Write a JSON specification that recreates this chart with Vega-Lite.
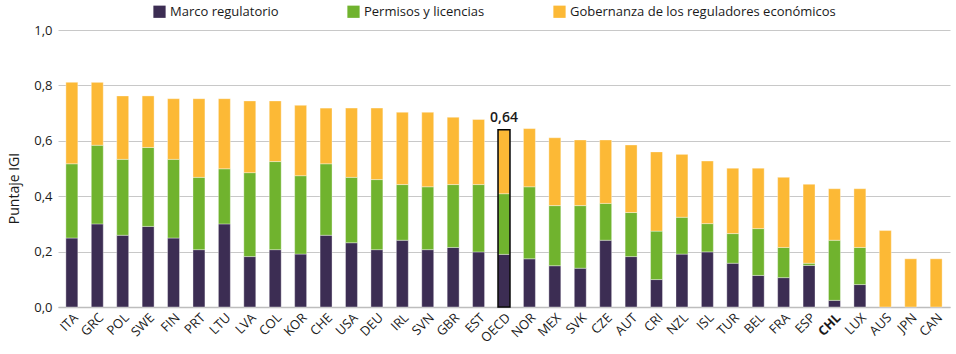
{
  "$schema": "https://vega.github.io/schema/vega-lite/v6.json",
  "width": 892,
  "height": 277,
  "autosize": {"type": "none"},
  "padding": {"left": 58, "top": 30, "right": 6, "bottom": 47},
  "background": "white",
  "config": {
    "view": {"stroke": null},
    "font": "Open Sans",
    "locale": {"number": {"decimal": ",", "thousands": ".", "grouping": [3], "currency": ["", " €"]}}
  },
  "data": {
    "values": [
      {"pais": "ITA", "componente": "Marco regulatorio", "orden": 1, "valor": 0.249},
      {"pais": "ITA", "componente": "Permisos y licencias", "orden": 2, "valor": 0.268},
      {"pais": "ITA", "componente": "Gobernanza de los reguladores económicos", "orden": 3, "valor": 0.294},
      {"pais": "GRC", "componente": "Marco regulatorio", "orden": 1, "valor": 0.300},
      {"pais": "GRC", "componente": "Permisos y licencias", "orden": 2, "valor": 0.284},
      {"pais": "GRC", "componente": "Gobernanza de los reguladores económicos", "orden": 3, "valor": 0.227},
      {"pais": "POL", "componente": "Marco regulatorio", "orden": 1, "valor": 0.259},
      {"pais": "POL", "componente": "Permisos y licencias", "orden": 2, "valor": 0.274},
      {"pais": "POL", "componente": "Gobernanza de los reguladores económicos", "orden": 3, "valor": 0.229},
      {"pais": "SWE", "componente": "Marco regulatorio", "orden": 1, "valor": 0.291},
      {"pais": "SWE", "componente": "Permisos y licencias", "orden": 2, "valor": 0.285},
      {"pais": "SWE", "componente": "Gobernanza de los reguladores económicos", "orden": 3, "valor": 0.186},
      {"pais": "FIN", "componente": "Marco regulatorio", "orden": 1, "valor": 0.249},
      {"pais": "FIN", "componente": "Permisos y licencias", "orden": 2, "valor": 0.284},
      {"pais": "FIN", "componente": "Gobernanza de los reguladores económicos", "orden": 3, "valor": 0.219},
      {"pais": "PRT", "componente": "Marco regulatorio", "orden": 1, "valor": 0.207},
      {"pais": "PRT", "componente": "Permisos y licencias", "orden": 2, "valor": 0.261},
      {"pais": "PRT", "componente": "Gobernanza de los reguladores económicos", "orden": 3, "valor": 0.284},
      {"pais": "LTU", "componente": "Marco regulatorio", "orden": 1, "valor": 0.300},
      {"pais": "LTU", "componente": "Permisos y licencias", "orden": 2, "valor": 0.199},
      {"pais": "LTU", "componente": "Gobernanza de los reguladores económicos", "orden": 3, "valor": 0.253},
      {"pais": "LVA", "componente": "Marco regulatorio", "orden": 1, "valor": 0.182},
      {"pais": "LVA", "componente": "Permisos y licencias", "orden": 2, "valor": 0.303},
      {"pais": "LVA", "componente": "Gobernanza de los reguladores económicos", "orden": 3, "valor": 0.259},
      {"pais": "COL", "componente": "Marco regulatorio", "orden": 1, "valor": 0.207},
      {"pais": "COL", "componente": "Permisos y licencias", "orden": 2, "valor": 0.318},
      {"pais": "COL", "componente": "Gobernanza de los reguladores económicos", "orden": 3, "valor": 0.219},
      {"pais": "KOR", "componente": "Marco regulatorio", "orden": 1, "valor": 0.191},
      {"pais": "KOR", "componente": "Permisos y licencias", "orden": 2, "valor": 0.283},
      {"pais": "KOR", "componente": "Gobernanza de los reguladores económicos", "orden": 3, "valor": 0.254},
      {"pais": "CHE", "componente": "Marco regulatorio", "orden": 1, "valor": 0.259},
      {"pais": "CHE", "componente": "Permisos y licencias", "orden": 2, "valor": 0.258},
      {"pais": "CHE", "componente": "Gobernanza de los reguladores económicos", "orden": 3, "valor": 0.201},
      {"pais": "USA", "componente": "Marco regulatorio", "orden": 1, "valor": 0.232},
      {"pais": "USA", "componente": "Permisos y licencias", "orden": 2, "valor": 0.236},
      {"pais": "USA", "componente": "Gobernanza de los reguladores económicos", "orden": 3, "valor": 0.250},
      {"pais": "DEU", "componente": "Marco regulatorio", "orden": 1, "valor": 0.207},
      {"pais": "DEU", "componente": "Permisos y licencias", "orden": 2, "valor": 0.253},
      {"pais": "DEU", "componente": "Gobernanza de los reguladores económicos", "orden": 3, "valor": 0.258},
      {"pais": "IRL", "componente": "Marco regulatorio", "orden": 1, "valor": 0.241},
      {"pais": "IRL", "componente": "Permisos y licencias", "orden": 2, "valor": 0.201},
      {"pais": "IRL", "componente": "Gobernanza de los reguladores económicos", "orden": 3, "valor": 0.261},
      {"pais": "SVN", "componente": "Marco regulatorio", "orden": 1, "valor": 0.207},
      {"pais": "SVN", "componente": "Permisos y licencias", "orden": 2, "valor": 0.227},
      {"pais": "SVN", "componente": "Gobernanza de los reguladores económicos", "orden": 3, "valor": 0.269},
      {"pais": "GBR", "componente": "Marco regulatorio", "orden": 1, "valor": 0.215},
      {"pais": "GBR", "componente": "Permisos y licencias", "orden": 2, "valor": 0.227},
      {"pais": "GBR", "componente": "Gobernanza de los reguladores económicos", "orden": 3, "valor": 0.243},
      {"pais": "EST", "componente": "Marco regulatorio", "orden": 1, "valor": 0.199},
      {"pais": "EST", "componente": "Permisos y licencias", "orden": 2, "valor": 0.243},
      {"pais": "EST", "componente": "Gobernanza de los reguladores económicos", "orden": 3, "valor": 0.235},
      {"pais": "OECD", "componente": "Marco regulatorio", "orden": 1, "valor": 0.190},
      {"pais": "OECD", "componente": "Permisos y licencias", "orden": 2, "valor": 0.219},
      {"pais": "OECD", "componente": "Gobernanza de los reguladores económicos", "orden": 3, "valor": 0.231},
      {"pais": "NOR", "componente": "Marco regulatorio", "orden": 1, "valor": 0.174},
      {"pais": "NOR", "componente": "Permisos y licencias", "orden": 2, "valor": 0.260},
      {"pais": "NOR", "componente": "Gobernanza de los reguladores económicos", "orden": 3, "valor": 0.210},
      {"pais": "MEX", "componente": "Marco regulatorio", "orden": 1, "valor": 0.149},
      {"pais": "MEX", "componente": "Permisos y licencias", "orden": 2, "valor": 0.217},
      {"pais": "MEX", "componente": "Gobernanza de los reguladores económicos", "orden": 3, "valor": 0.245},
      {"pais": "SVK", "componente": "Marco regulatorio", "orden": 1, "valor": 0.140},
      {"pais": "SVK", "componente": "Permisos y licencias", "orden": 2, "valor": 0.226},
      {"pais": "SVK", "componente": "Gobernanza de los reguladores económicos", "orden": 3, "valor": 0.237},
      {"pais": "CZE", "componente": "Marco regulatorio", "orden": 1, "valor": 0.241},
      {"pais": "CZE", "componente": "Permisos y licencias", "orden": 2, "valor": 0.133},
      {"pais": "CZE", "componente": "Gobernanza de los reguladores económicos", "orden": 3, "valor": 0.229},
      {"pais": "AUT", "componente": "Marco regulatorio", "orden": 1, "valor": 0.182},
      {"pais": "AUT", "componente": "Permisos y licencias", "orden": 2, "valor": 0.159},
      {"pais": "AUT", "componente": "Gobernanza de los reguladores económicos", "orden": 3, "valor": 0.244},
      {"pais": "CRI", "componente": "Marco regulatorio", "orden": 1, "valor": 0.099},
      {"pais": "CRI", "componente": "Permisos y licencias", "orden": 2, "valor": 0.175},
      {"pais": "CRI", "componente": "Gobernanza de los reguladores económicos", "orden": 3, "valor": 0.286},
      {"pais": "NZL", "componente": "Marco regulatorio", "orden": 1, "valor": 0.191},
      {"pais": "NZL", "componente": "Permisos y licencias", "orden": 2, "valor": 0.133},
      {"pais": "NZL", "componente": "Gobernanza de los reguladores económicos", "orden": 3, "valor": 0.227},
      {"pais": "ISL", "componente": "Marco regulatorio", "orden": 1, "valor": 0.199},
      {"pais": "ISL", "componente": "Permisos y licencias", "orden": 2, "valor": 0.102},
      {"pais": "ISL", "componente": "Gobernanza de los reguladores económicos", "orden": 3, "valor": 0.226},
      {"pais": "TUR", "componente": "Marco regulatorio", "orden": 1, "valor": 0.158},
      {"pais": "TUR", "componente": "Permisos y licencias", "orden": 2, "valor": 0.107},
      {"pais": "TUR", "componente": "Gobernanza de los reguladores económicos", "orden": 3, "valor": 0.236},
      {"pais": "BEL", "componente": "Marco regulatorio", "orden": 1, "valor": 0.114},
      {"pais": "BEL", "componente": "Permisos y licencias", "orden": 2, "valor": 0.169},
      {"pais": "BEL", "componente": "Gobernanza de los reguladores económicos", "orden": 3, "valor": 0.218},
      {"pais": "FRA", "componente": "Marco regulatorio", "orden": 1, "valor": 0.106},
      {"pais": "FRA", "componente": "Permisos y licencias", "orden": 2, "valor": 0.109},
      {"pais": "FRA", "componente": "Gobernanza de los reguladores económicos", "orden": 3, "valor": 0.253},
      {"pais": "ESP", "componente": "Marco regulatorio", "orden": 1, "valor": 0.150},
      {"pais": "ESP", "componente": "Permisos y licencias", "orden": 2, "valor": 0.008},
      {"pais": "ESP", "componente": "Gobernanza de los reguladores económicos", "orden": 3, "valor": 0.285},
      {"pais": "CHL", "componente": "Marco regulatorio", "orden": 1, "valor": 0.024},
      {"pais": "CHL", "componente": "Permisos y licencias", "orden": 2, "valor": 0.217},
      {"pais": "CHL", "componente": "Gobernanza de los reguladores económicos", "orden": 3, "valor": 0.186},
      {"pais": "LUX", "componente": "Marco regulatorio", "orden": 1, "valor": 0.081},
      {"pais": "LUX", "componente": "Permisos y licencias", "orden": 2, "valor": 0.134},
      {"pais": "LUX", "componente": "Gobernanza de los reguladores económicos", "orden": 3, "valor": 0.212},
      {"pais": "AUS", "componente": "Gobernanza de los reguladores económicos", "orden": 3, "valor": 0.276},
      {"pais": "JPN", "componente": "Gobernanza de los reguladores económicos", "orden": 3, "valor": 0.174},
      {"pais": "CAN", "componente": "Gobernanza de los reguladores económicos", "orden": 3, "valor": 0.174}
    ]
  },
  "encoding": {
    "x": {
      "field": "pais",
      "type": "nominal",
      "sort": null,
      "scale": {"paddingInner": 0.53, "paddingOuter": 0.31},
      "axis": {
        "title": null,
        "labelAngle": -45,
        "labelFontSize": 13,
        "labelColor": "#1a1a1a",
        "labelFontWeight": {"condition": {"test": "datum.value === 'CHL'", "value": "bold"}, "value": "normal"},
        "ticks": false,
        "labelPadding": 4,
        "domainColor": "#bdbdbd",
        "domainWidth": 1.5
      }
    }
  },
  "layer": [
    {
      "mark": {"type": "bar", "stroke": "white", "strokeWidth": 0.6, "strokeOpacity": 0.6},
      "encoding": {
        "y": {
          "field": "valor",
          "type": "quantitative",
          "aggregate": "sum",
          "stack": "zero",
          "scale": {"domain": [0, 1]},
          "axis": {
            "title": "Puntaje IGI",
            "titleFontSize": 14,
            "titleFontWeight": "normal",
            "titleColor": "#1a1a1a",
            "titleX": -37,
            "titleY": 158,
            "values": [0, 0.2, 0.4, 0.6, 0.8, 1.0],
            "format": ".1f",
            "labelFontSize": 13,
            "labelColor": "#1a1a1a",
            "labelPadding": 6,
            "ticks": false,
            "domain": false,
            "gridColor": "#c8c8c8",
            "gridWidth": 1
          }
        },
        "color": {
          "field": "componente",
          "type": "nominal",
          "scale": {
            "domain": ["Marco regulatorio", "Permisos y licencias", "Gobernanza de los reguladores económicos"],
            "range": ["#3c2d53", "#70b32e", "#fcb936"]
          },
          "legend": {
            "title": null,
            "orient": "none",
            "direction": "horizontal",
            "legendX": 95,
            "legendY": -25,
            "symbolType": "square",
            "symbolSize": 150,
            "symbolStrokeWidth": 0,
            "labelFontSize": 13,
            "labelColor": "#1a1a1a",
            "columnPadding": 68,
            "labelLimit": 400
          }
        },
        "order": {"field": "orden", "type": "quantitative"}
      }
    },
    {
      "transform": [
        {"filter": "datum.pais === 'OECD'"},
        {"aggregate": [{"op": "sum", "field": "valor", "as": "total"}], "groupby": ["pais"]}
      ],
      "mark": {"type": "bar", "fillOpacity": 0, "stroke": "black", "strokeWidth": 1.5},
      "encoding": {
        "y": {"field": "total", "type": "quantitative"}
      }
    },
    {
      "transform": [
        {"filter": "datum.pais === 'OECD'"},
        {"aggregate": [{"op": "sum", "field": "valor", "as": "total"}], "groupby": ["pais"]}
      ],
      "mark": {"type": "text", "dy": -12, "fontSize": 14, "fontWeight": 600, "color": "#1a1a1a"},
      "encoding": {
        "y": {"field": "total", "type": "quantitative"},
        "text": {"field": "total", "type": "quantitative", "format": ".2f"}
      }
    }
  ]
}
